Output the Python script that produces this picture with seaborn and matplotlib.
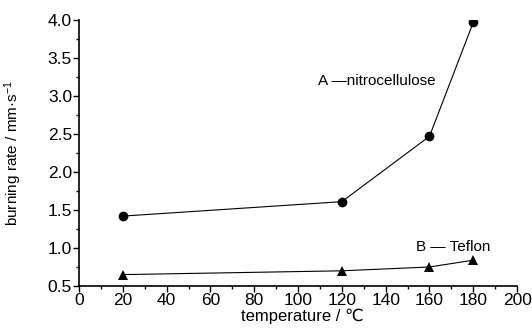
import matplotlib
matplotlib.use("Agg")
import matplotlib.pyplot as plt
import seaborn as sns
import pandas as pd
from matplotlib.ticker import MultipleLocator

temps = [20, 120, 160, 180]
rate_a = [1.42, 1.61, 2.47, 3.97]
rate_b = [0.65, 0.70, 0.75, 0.84]

sns.set_style("ticks")
plt.rcParams['font.family'] = ['Liberation Sans', 'DejaVu Sans']
plt.rcParams['mathtext.fontset'] = 'custom'
plt.rcParams['mathtext.rm'] = 'Liberation Sans'
plt.rcParams['mathtext.it'] = 'Liberation Sans'
for k in ['text.color', 'axes.labelcolor', 'xtick.color', 'ytick.color', 'axes.edgecolor']:
    plt.rcParams[k] = 'black'

df = pd.DataFrame({"temperature": temps * 2,
                   "rate": rate_a + rate_b,
                   "series": ["A"] * 4 + ["B"] * 4})

fig = plt.figure(figsize=(5.32, 3.34), dpi=100)
ax = fig.add_axes([0.1485, 0.1437, 0.8235, 0.7963])
sns.lineplot(data=df[df.series == "A"], x="temperature", y="rate", ax=ax,
             color="black", lw=0.8, marker="o", markersize=7, markeredgewidth=0)
sns.lineplot(data=df[df.series == "B"], x="temperature", y="rate", ax=ax,
             color="black", lw=0.8, marker="^", markersize=7, markeredgewidth=0)

ax.set_xlim(0, 200)
ax.set_ylim(0.5, 4.0)
ax.xaxis.set_major_locator(MultipleLocator(20))
ax.xaxis.set_minor_locator(MultipleLocator(10))
ax.yaxis.set_major_locator(MultipleLocator(0.5))
ax.yaxis.set_minor_locator(MultipleLocator(0.25))
ax.tick_params(which="major", length=4, width=1, labelsize=12.5, direction="out", pad=1)
ax.tick_params(which="minor", length=2.5, width=1, direction="out")
for s in ["left", "bottom"]:
    ax.spines[s].set_linewidth(1.2)
sns.despine(ax=ax)

ax.set_xlabel("temperature / ℃", fontsize=12)
ax.set_ylabel("burning rate / mm·s$^{-1}$", fontsize=11)
ax.xaxis.set_label_coords(0.51, -0.085)
ax.yaxis.set_label_coords(-0.125, 0.5)

ax.text(0.545, 0.755, "A —nitrocellulose", transform=ax.transAxes, fontsize=11)
ax.text(0.77, 0.13, "B — Teflon", transform=ax.transAxes, fontsize=11)

fig.savefig("out.png", dpi=100)
